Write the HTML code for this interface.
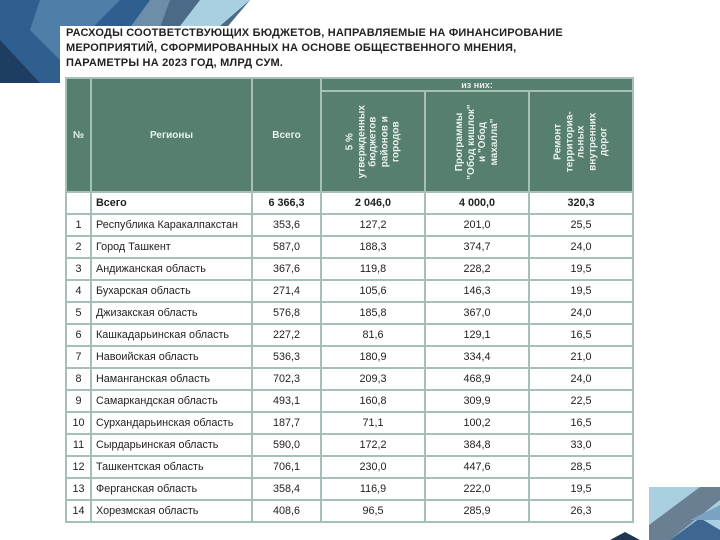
<!DOCTYPE html>
<html><head><meta charset="utf-8"><style>
body{margin:0;width:720px;height:540px;overflow:hidden;background:#fff;position:relative;font-family:"Liberation Sans","DejaVu Sans",sans-serif;}
#title{position:absolute;left:66px;top:26px;font-weight:bold;font-size:11px;line-height:15px;color:#222;letter-spacing:0.2px;white-space:nowrap;}
table{position:absolute;left:65px;top:77px;border-collapse:collapse;table-layout:fixed;width:567px;}
td,th{border:2px solid #a5c0b5;padding:0;font-size:10.8px;color:#222;overflow:hidden;white-space:nowrap;}
th{background:#567f70;color:#e8efec;font-weight:bold;font-size:10px;}
.hdr2 th{height:99px;}
.vert{display:inline-block;transform:rotate(-90deg);white-space:nowrap;width:96px;line-height:11.5px;font-size:10px;text-align:center;}
tbody td{height:20px;text-align:center;}
tbody td.r{text-align:left;padding-left:4px;}
tr.tot td{font-weight:bold;}
</style></head><body>
<svg width="260" height="90" style="position:absolute;left:0;top:0">
<polygon points="0,0 250,0 170,83 0,83" fill="#2f5f8f"/>
<polygon points="0,40 40,83 0,83" fill="#1d3d62"/>
<polygon points="40,0 120,0 60,60 30,30" fill="#4f7fa8"/>
<polygon points="150,0 200,0 130,83 90,83" fill="#6d8ea8"/>
<polygon points="170,0 250,0 180,83 140,83" fill="#4a6a88"/>
<polygon points="200,0 250,0 220,26 180,26" fill="#a9cfe0"/>
<rect x="60" y="26" width="200" height="64" fill="#fff"/>
</svg>
<svg width="720" height="540" style="position:absolute;left:0;top:0">
<rect x="649" y="487" width="71" height="53" fill="#a9cfe0"/>
<polygon points="649,540 649,525 700,487 720,487 720,500 670,540" fill="#6a8092"/>
<polygon points="670,540 700,518 720,530 720,540" fill="#3d6690"/>
<polygon points="690,520 720,505 720,520" fill="#7ba2c2"/>
<polygon points="610,540 625,532 640,540" fill="#1f3550"/>
</svg>
<div id="title">РАСХОДЫ СООТВЕТСТВУЮЩИХ БЮДЖЕТОВ, НАПРАВЛЯЕМЫЕ НА ФИНАНСИРОВАНИЕ<br>МЕРОПРИЯТИЙ, СФОРМИРОВАННЫХ НА ОСНОВЕ ОБЩЕСТВЕННОГО МНЕНИЯ,<br>ПАРАМЕТРЫ НА 2023 ГОД, МЛРД СУМ.</div>
<table>
<colgroup><col style="width:25px"><col style="width:161px"><col style="width:69px"><col style="width:104px"><col style="width:104px"><col style="width:104px"></colgroup>
<thead>
<tr style="height:13px"><th rowspan="2">№</th><th rowspan="2">Регионы</th><th rowspan="2">Всего</th><th colspan="3" style="height:11px;font-size:9px">из них:</th></tr>
<tr class="hdr2"><th><span class="vert">5 %<br>утвержденных<br>бюджетов<br>районов и<br>городов</span></th><th><span class="vert">Программы<br>"Обод кишлок"<br>и "Обод<br>махалла"</span></th><th><span class="vert">Ремонт<br>территориа-<br>льных<br>внутренних<br>дорог</span></th></tr>
</thead>
<tbody id="tb"></tbody>
</table>
<script>
const regions=["Республика Каракалпакстан","Город Ташкент","Андижанская область","Бухарская область","Джизакская область","Кашкадарьинская область","Навоийская область","Наманганская область","Самаркандская область","Сурхандарьинская область","Сырдарьинская область","Ташкентская область","Ферганская область","Хорезмская область"];
const totals=["353,6","587,0","367,6","271,4","576,8","227,2","536,3","702,3","493,1","187,7","590,0","706,1","358,4","408,6"];
const budget5=["127,2","188,3","119,8","105,6","185,8","81,6","180,9","209,3","160,8","71,1","172,2","230,0","116,9","96,5"];
const programs=["201,0","374,7","228,2","146,3","367,0","129,1","334,4","468,9","309,9","100,2","384,8","447,6","222,0","285,9"];
const roads=["25,5","24,0","19,5","19,5","24,0","16,5","21,0","24,0","22,5","16,5","33,0","28,5","19,5","26,3"];
const tb=document.getElementById('tb');
function addRow(cells,cls){
  const tr=document.createElement('tr');
  
  
  if(cls) tr.className=cls;
  cells.forEach((c,i)=>{
    const td=document.createElement('td');
    
    
    if(i===1) td.className='r';
    td.textContent=c;
    tr.appendChild(td);
  });
  tb.appendChild(tr);
}
addRow(["","Всего","6 366,3","2 046,0","4 000,0","320,3"],"tot");
regions.forEach((r,i)=>addRow([String(i+1),r,totals[i],budget5[i],programs[i],roads[i]]));
</script>
</body></html>
